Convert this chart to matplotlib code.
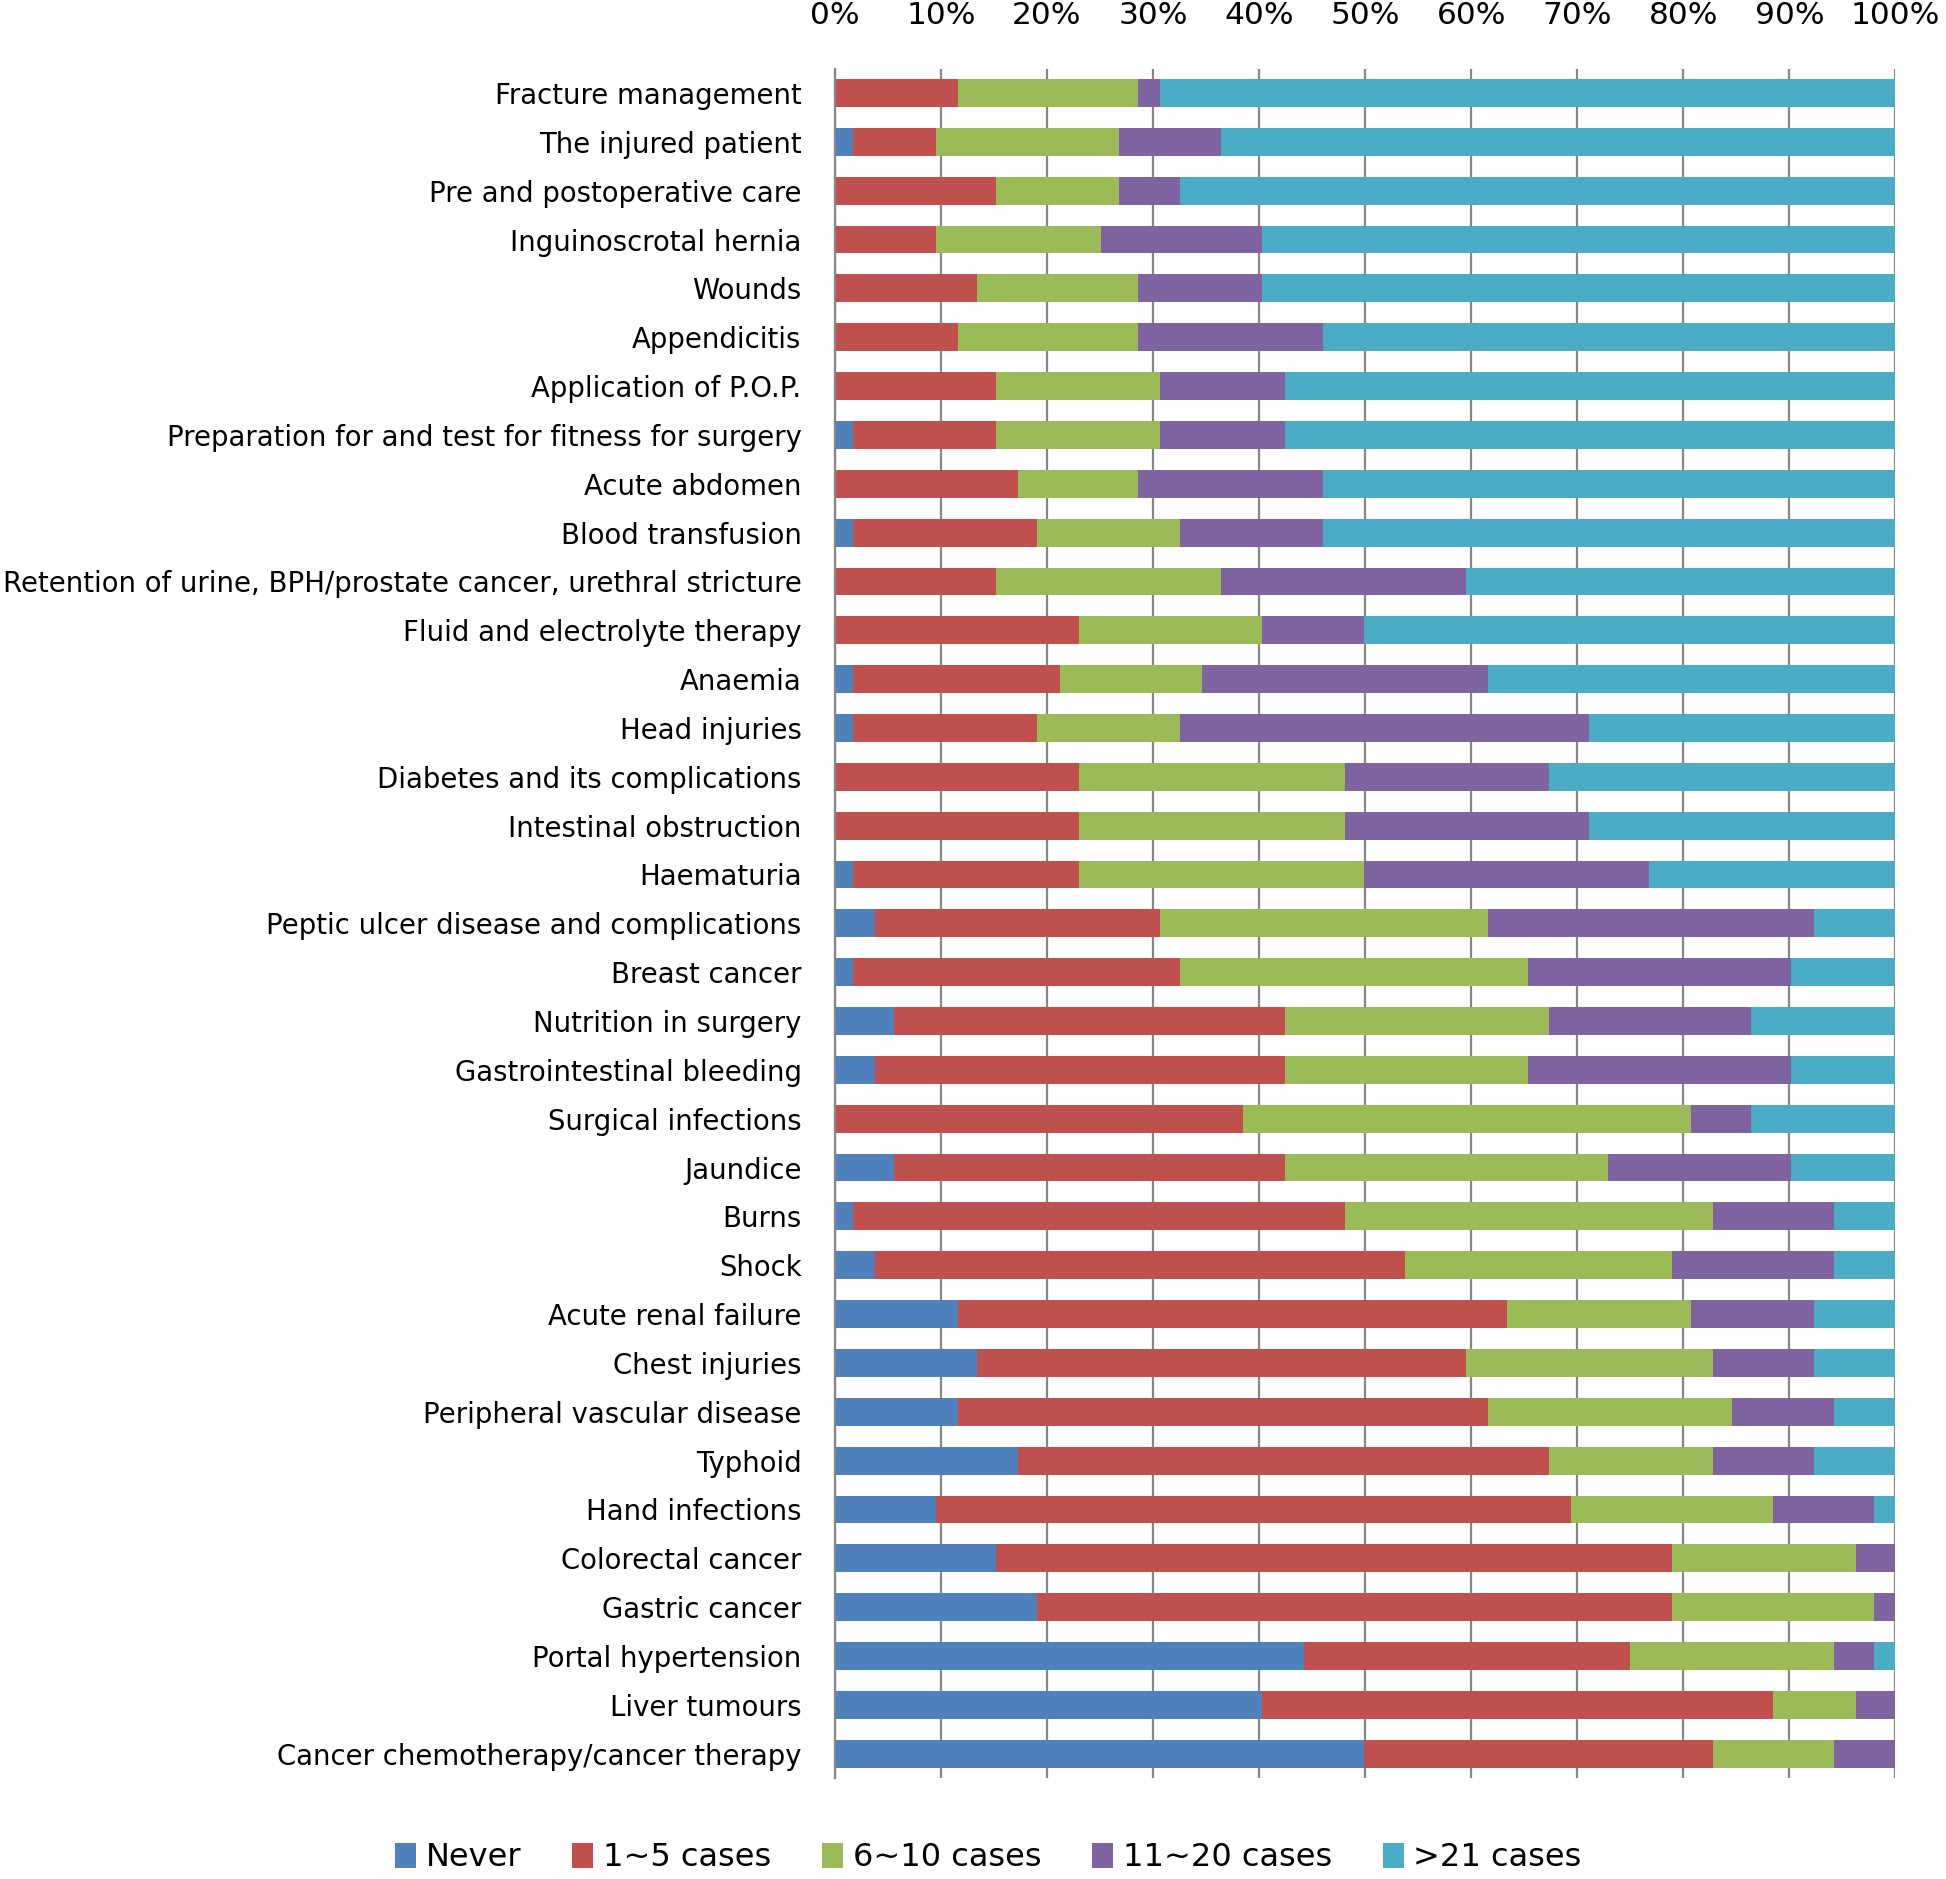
import matplotlib
matplotlib.use('Agg')
import matplotlib.pyplot as plt
import numpy as np

# categories, top to bottom
topics = [
    'Fracture management', 'The injured patient', 'Pre and postoperative care',
    'Inguinoscrotal hernia', 'Wounds', 'Appendicitis', 'Application of P.O.P.',
    'Preparation for and test for fitness for surgery', 'Acute abdomen',
    'Blood transfusion',
    'Retention of urine, BPH/prostate cancer, urethral stricture',
    'Fluid and electrolyte therapy', 'Anaemia', 'Head injuries',
    'Diabetes and its complications', 'Intestinal obstruction', 'Haematuria',
    'Peptic ulcer disease and complications', 'Breast cancer',
    'Nutrition in surgery', 'Gastrointestinal bleeding', 'Surgical infections',
    'Jaundice', 'Burns', 'Shock', 'Acute renal failure', 'Chest injuries',
    'Peripheral vascular disease', 'Typhoid', 'Hand infections',
    'Colorectal cancer', 'Gastric cancer', 'Portal hypertension',
    'Liver tumours', 'Cancer chemotherapy/cancer therapy',
]

series_names = ['Never', '1~5 cases', '6~10 cases', '11~20 cases', '>21 cases']

# percentages per topic, same order as topics
never = [0, 1.7, 0, 0, 0, 0, 0, 1.7, 0, 1.7, 0, 0, 1.7, 1.7, 0, 0, 1.7, 3.8,
         1.7, 5.6, 3.8, 0, 5.6, 1.7, 3.8, 11.6, 13.4, 11.6, 17.3, 9.5, 15.2,
         19.1, 44.2, 40.3, 49.9]
cases_1_5 = [11.6, 7.8, 15.2, 9.5, 13.4, 11.6, 15.2, 13.5, 17.3, 17.4, 15.2,
             23.0, 19.5, 17.4, 23.0, 23.0, 21.3, 26.9, 30.8, 36.8, 38.6, 38.5,
             36.8, 46.4, 50.0, 51.8, 46.1, 50.0, 50.0, 59.9, 63.7, 59.8, 30.8,
             48.2, 32.9]
cases_6_10 = [17.0, 17.3, 11.6, 15.6, 15.2, 17.0, 15.5, 15.5, 11.3, 13.4, 21.2,
              17.3, 13.4, 13.4, 25.1, 25.1, 26.9, 30.9, 32.9, 24.9, 23.0, 42.2,
              30.5, 34.7, 25.1, 17.3, 23.3, 23.0, 15.5, 19.1, 17.4, 19.1, 19.2,
              7.8, 11.4]
cases_11_20 = [2.1, 9.6, 5.7, 15.2, 11.7, 17.4, 11.7, 11.7, 17.4, 13.5, 23.1,
               9.6, 27.0, 38.6, 19.2, 23.0, 26.9, 30.7, 24.8, 19.1, 24.8, 5.7,
               17.3, 11.4, 15.3, 11.6, 9.5, 9.6, 9.5, 9.5, 3.7, 2.0, 3.8, 3.7,
               5.8]
cases_21 = [69.3, 63.6, 67.5, 59.7, 59.7, 54.0, 57.6, 57.6, 54.0, 54.0, 40.5,
            50.1, 38.4, 28.9, 32.7, 28.9, 23.2, 7.7, 9.8, 13.6, 9.8, 13.6, 9.8,
            5.8, 5.8, 7.7, 7.7, 5.8, 7.7, 2.0, 0, 0, 2.0, 0, 0]

colors = ['#4F81BD', '#C0504D', '#9BBB59', '#8064A2', '#4BACC6']

fig = plt.figure(figsize=(19.46, 18.79), dpi=100)
ax = fig.add_axes([0.429, 0.0537, 0.545, 0.9098])

data = np.array([never, cases_1_5, cases_6_10, cases_11_20, cases_21])
# normalise so every bar fills 100%
data = data / data.sum(axis=0) * 100
y = np.arange(len(topics))
left = np.zeros(len(topics))
for vals, name, col in zip(data, series_names, colors):
    ax.barh(y, vals, left=left, height=0.57, color=col, label=name, zorder=2)
    left += vals

ax.set_xlim(0, 100)
ax.set_ylim(len(topics) - 0.5, -0.5)
ax.set_xticks(np.arange(0, 101, 10))
ax.set_xticklabels([f'{v}%' for v in range(0, 101, 10)], fontsize=22.5)
ax.xaxis.tick_top()
ax.tick_params(axis='x', length=0, pad=28)
ax.set_yticks(y)
ax.set_yticklabels(topics, fontsize=19.8)
ax.tick_params(axis='y', length=0, pad=24)
ax.grid(axis='x', color='#868686', linewidth=1.6, zorder=1)

for s in ['top', 'right', 'bottom']:
    ax.spines[s].set_visible(False)
ax.spines['left'].set_color('#868686')
ax.spines['left'].set_linewidth(1.6)

fig.legend(loc='lower center', bbox_to_anchor=(0.508, 0.003), ncol=5,
           frameon=False, fontsize=23, handlelength=0.65, handleheight=0.85,
           handletextpad=0.3, columnspacing=1.6, borderaxespad=0,
           borderpad=0)

fig.savefig('out.png', dpi=100)
